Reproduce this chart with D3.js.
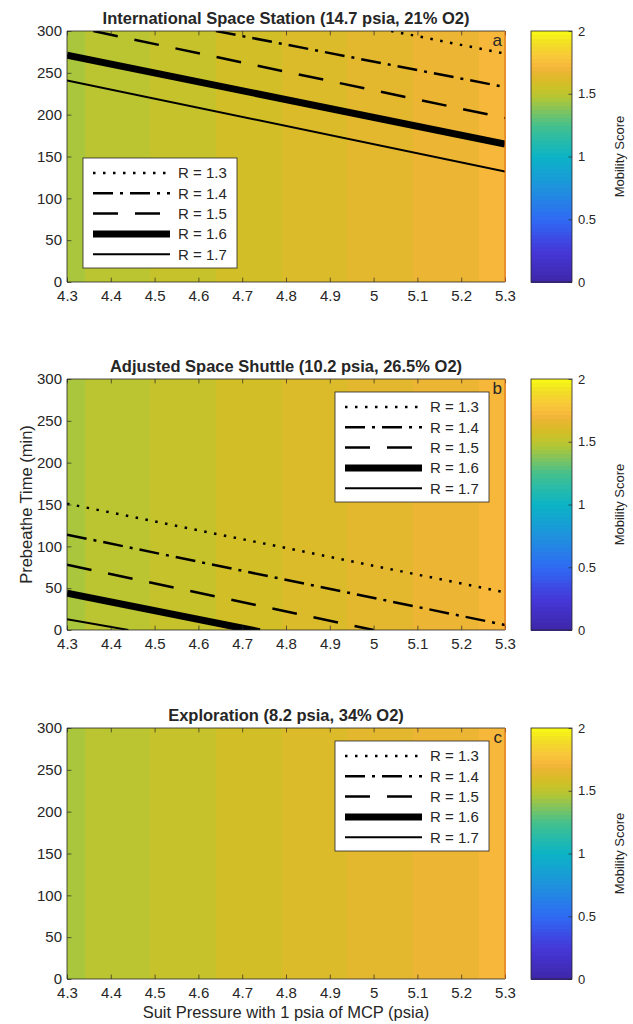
<!DOCTYPE html>
<html>
<head>
<meta charset="utf-8">
<script src="https://cdn.jsdelivr.net/npm/d3@7"></script>
<style>
  body { margin: 0; background: #fff; }
  text { font-family: "Liberation Sans", Arial, Helvetica, sans-serif; fill: #262626; }
</style>
</head>
<body>
<svg id="chart" width="633" height="1024"></svg>
<script>
// ---- data ----
var xTicks = [4.3, 4.4, 4.5, 4.6, 4.7, 4.8, 4.9, 5, 5.1, 5.2, 5.3];
var yTicks = [0, 50, 100, 150, 200, 250, 300];
var cbTicks = [0, 0.5, 1, 1.5, 2];

// mobility score of each vertical band (same for all three panels)
var bandEdges = [4.3, 4.34, 4.49, 4.64, 4.79, 4.94, 5.09, 5.24, 5.3];
var bandScores = [1.45, 1.49, 1.53, 1.57, 1.61, 1.65, 1.69, 1.72];

var legendLabels = ['R = 1.3', 'R = 1.4', 'R = 1.5', 'R = 1.6', 'R = 1.7'];

// contour lines: [suit pressure, prebreathe time]
var issR13 = [[5.04, 300], [5.3, 273]];
var issR14 = [[4.64, 300], [5.3, 233]];
var issR15 = [[4.36, 300], [5.3, 196]];
var issR16 = [[4.3, 271], [5.3, 165]];
var issR17 = [[4.3, 241], [5.3, 132]];

var shuttleR13 = [[4.3, 151], [5.3, 45]];
var shuttleR14 = [[4.3, 114], [5.3, 6]];
var shuttleR15 = [[4.3, 78], [5.0, 0]];
var shuttleR16 = [[4.3, 44], [4.74, -2]];
var shuttleR17 = [[4.3, 13], [4.44, 0]];

var panelTitles = [
  'International Space Station (14.7 psia, 21% O2)',
  'Adjusted Space Shuttle (10.2 psia, 26.5% O2)',
  'Exploration (8.2 psia, 34% O2)'
];
var panelLetters = ['a', 'b', 'c'];
var panelLines = [
  [issR13, issR14, issR15, issR16, issR17],
  [shuttleR13, shuttleR14, shuttleR15, shuttleR16, shuttleR17],
  []
];

// ---- layout / style ----
var panelTops = [31, 379, 728];
var plotH = 251;
var legendPos = [[83, 158], [335, 392], [335, 741]];
var lineStyles = [
  { w: 2.5, dash: '2.5,7.5' },
  { w: 2.5, dash: '20,7,3,7' },
  { w: 2.5, dash: '25,17' },
  { w: 7, dash: null },
  { w: 2, dash: null }
];
var cbX0 = 531, cbX1 = 572;

// parula-like colormap
var cmap = d3.scaleLinear()
  .domain([0, 0.25, 0.5, 0.75, 1, 1.25, 1.38, 1.45, 1.49, 1.53, 1.57, 1.61, 1.65, 1.69, 1.72, 1.8, 1.9, 2])
  .range(['#3e26a8', '#4538d9', '#2f69f3', '#1e92dd', '#0bb3c6', '#44c18d', '#86c45a', '#a9c63c',
           '#bac531', '#c6c22b', '#d2bf27', '#dcbb2b', '#e3b82e', '#edb534', '#f6b73a',
           '#f9c83a', '#f1de26', '#f9fb14'])
  .interpolate(d3.interpolateRgb)
  .clamp(true);

var svg = d3.select('#chart');
var x = d3.scaleLinear().domain([4.3, 5.3]).range([67, 505]);

panelTops.forEach(function (top, i) {
  var bottom = top + plotH;
  var y = d3.scaleLinear().domain([0, 300]).range([bottom, top]);
  var g = svg.append('g');

  // background bands
  g.selectAll('rect.band')
    .data(bandScores)
    .enter()
    .append('rect')
    .attr('class', 'band')
    .attr('x', function (d, j) { return x(bandEdges[j]); })
    .attr('width', function (d, j) { return x(bandEdges[j + 1]) - x(bandEdges[j]) + 0.5; })
    .attr('y', top)
    .attr('height', plotH)
    .attr('fill', function (d) { return cmap(d); })
    .attr('shape-rendering', 'crispEdges');

  // contour lines
  svg.append('clipPath').attr('id', 'clip' + i)
    .append('rect').attr('x', x(4.3)).attr('y', top)
    .attr('width', x(5.3) - x(4.3)).attr('height', plotH);

  var line = d3.line()
    .x(function (d) { return x(d[0]); })
    .y(function (d) { return y(d[1]); });

  g.append('g').attr('clip-path', 'url(#clip' + i + ')')
    .selectAll('path')
    .data(panelLines[i])
    .enter()
    .append('path')
    .attr('d', line)
    .attr('fill', 'none')
    .attr('stroke', '#000')
    .attr('stroke-width', function (d, j) { return lineStyles[j].w; })
    .attr('stroke-dasharray', function (d, j) { return lineStyles[j].dash; });

  // axes (ticks point inward)
  var xAxis = g.append('g')
    .attr('transform', 'translate(0,' + bottom + ')')
    .call(d3.axisBottom(x).tickValues(xTicks).tickSize(-4.4).tickPadding(8)
      .tickFormat(d3.format('')));
  var xTop = g.append('g')
    .attr('transform', 'translate(0,' + top + ')')
    .call(d3.axisTop(x).tickValues(xTicks).tickSize(-4.4).tickFormat(''));
  var yAxis = g.append('g')
    .attr('transform', 'translate(' + x(4.3) + ',0)')
    .call(d3.axisLeft(y).tickValues(yTicks).tickSize(-4.4).tickPadding(5));

  [xAxis, xTop, yAxis].forEach(function (a) {
    a.select('.domain').remove();
    a.selectAll('line').attr('stroke', '#262626').attr('stroke-width', 0.7);
    a.selectAll('text').style('font-size', '15px').attr('fill', '#262626')
      .style('font-family', '"Liberation Sans", Arial, sans-serif');
  });

  // box
  g.append('path')
    .attr('d', 'M' + x(5.3) + ',' + top + 'H' + x(4.3) + 'V' + bottom + 'H' + x(5.3))
    .attr('fill', 'none').attr('stroke', '#262626').attr('stroke-width', 0.8);
  g.append('line')
    .attr('x1', x(5.3)).attr('x2', x(5.3)).attr('y1', top).attr('y2', bottom)
    .attr('stroke', '#dc6a20').attr('stroke-width', 1);

  // title and letter
  g.append('text')
    .attr('x', (x(4.3) + x(5.3)) / 2)
    .attr('y', top - 7.5)
    .attr('text-anchor', 'middle')
    .style('font-size', '16.5px')
    .style('font-weight', 'bold')
    .attr('fill', '#000')
    .text(panelTitles[i]);

  g.append('text')
    .attr('x', x(5.3) - 3)
    .attr('y', top + 15)
    .attr('text-anchor', 'end')
    .style('font-size', '17px')
    .text(panelLetters[i]);

  // legend
  var lg = g.append('g')
    .attr('transform', 'translate(' + legendPos[i][0] + ',' + legendPos[i][1] + ')');
  lg.append('rect')
    .attr('width', 154).attr('height', 110)
    .attr('fill', '#fff').attr('stroke', '#262626').attr('stroke-width', 0.8);
  var rows = lg.selectAll('g.row')
    .data(legendLabels)
    .enter()
    .append('g')
    .attr('class', 'row')
    .attr('transform', function (d, j) { return 'translate(0,' + (15 + j * 20.3) + ')'; });
  rows.append('line')
    .attr('x1', 10).attr('x2', 87)
    .attr('stroke', '#000')
    .attr('stroke-width', function (d, j) { return lineStyles[j].w; })
    .attr('stroke-dasharray', function (d, j) { return lineStyles[j].dash; });
  rows.append('text')
    .attr('x', 95).attr('dy', '0.36em')
    .style('font-size', '15px')
    .text(function (d) { return d; });

  // colorbar
  var cy = d3.scaleLinear().domain([0, 2]).range([bottom, top]);
  var nCells = 64;
  g.selectAll('rect.cb')
    .data(d3.range(nCells))
    .enter()
    .append('rect')
    .attr('class', 'cb')
    .attr('x', cbX0)
    .attr('width', cbX1 - cbX0)
    .attr('y', function (d) { return cy((d + 1) * 2 / nCells); })
    .attr('height', function (d) { return cy(d * 2 / nCells) - cy((d + 1) * 2 / nCells) + 0.5; })
    .attr('fill', function (d) { return cmap((d + 0.5) * 2 / nCells); })
    .attr('shape-rendering', 'crispEdges');
  var cbAxis = g.append('g')
    .attr('transform', 'translate(' + cbX1 + ',0)')
    .call(d3.axisRight(cy).tickValues(cbTicks).tickSize(-3.5).tickPadding(6)
      .tickFormat(d3.format('')));
  cbAxis.select('.domain').remove();
  cbAxis.selectAll('line').attr('stroke', '#262626').attr('stroke-width', 0.7);
  cbAxis.selectAll('text').style('font-size', '13px').attr('fill', '#262626')
    .style('font-family', '"Liberation Sans", Arial, sans-serif');
  g.append('rect')
    .attr('x', cbX0).attr('y', top)
    .attr('width', cbX1 - cbX0).attr('height', plotH)
    .attr('fill', 'none').attr('stroke', '#262626').attr('stroke-width', 0.8);
  g.append('text')
    .attr('transform', 'translate(624,' + (top + plotH / 2) + ') rotate(-90)')
    .attr('text-anchor', 'middle')
    .style('font-size', '13px')
    .text('Mobility Score');
});

// shared axis labels
svg.append('text')
  .attr('x', (x(4.3) + x(5.3)) / 2)
  .attr('y', 1018)
  .attr('text-anchor', 'middle')
  .style('font-size', '16.5px')
  .text('Suit Pressure with 1 psia of MCP (psia)');

svg.append('text')
  .attr('transform', 'translate(32,' + (panelTops[1] + plotH / 2) + ') rotate(-90)')
  .attr('text-anchor', 'middle')
  .style('font-size', '16.5px')
  .text('Prebeathe Time (min)');
</script>
</body>
</html>
